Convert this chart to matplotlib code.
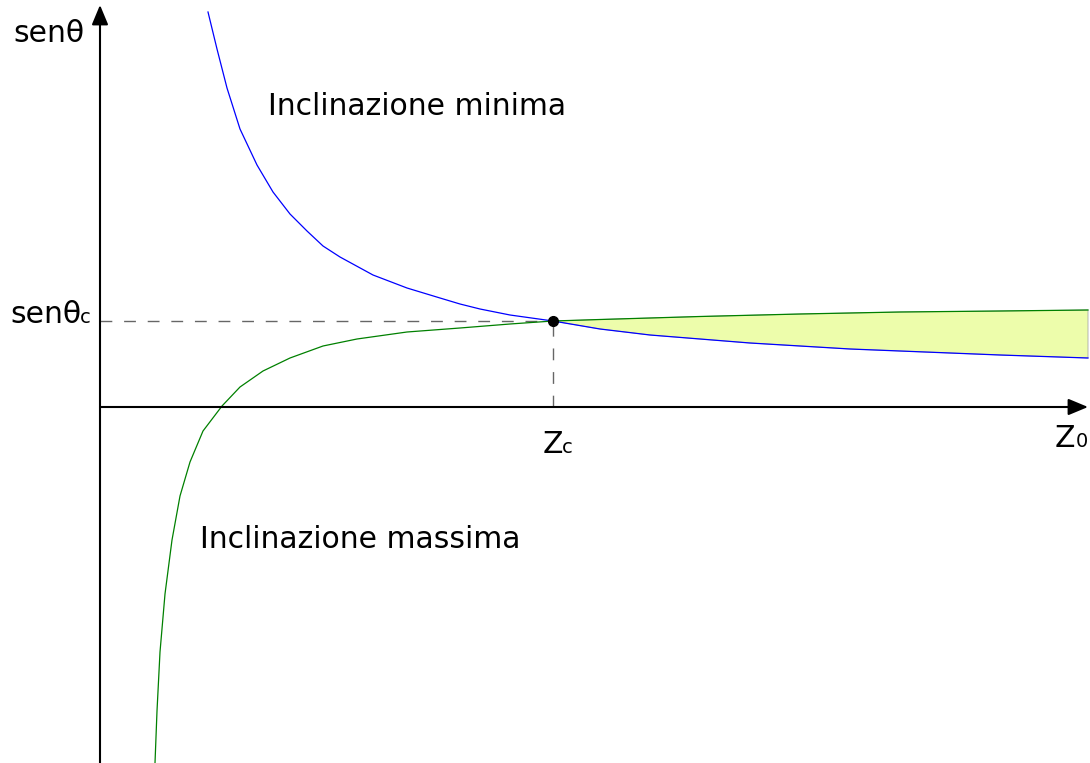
import matplotlib.pyplot as plt
import numpy as np

# curve samples (z0, sen theta), read along each branch
z_min = [1.08, 1.17, 1.27, 1.40, 1.57, 1.73, 1.90, 2.07, 2.23, 2.40, 2.73, 3.07, 3.40,
         3.60, 3.80, 4.10, 4.53, 5.00, 5.50, 6.00, 6.50, 7.00, 7.50, 8.00, 9.00, 9.88]
s_min = [3.95, 3.58, 3.19, 2.78, 2.42, 2.15, 1.93, 1.76, 1.61, 1.50, 1.32, 1.19, 1.09,
         1.03, 0.98, 0.92, 0.86, 0.78, 0.72, 0.68, 0.64, 0.61, 0.58, 0.56, 0.52, 0.49]

z_max = [0.55, 0.57, 0.60, 0.65, 0.72, 0.80, 0.90, 1.03, 1.22, 1.40, 1.63, 1.90, 2.23,
         2.57, 3.07, 3.60, 4.10, 4.53, 5.00, 5.50, 6.00, 7.00, 8.00, 9.00, 9.88]
s_max = [-3.56, -3.04, -2.45, -1.87, -1.33, -0.89, -0.55, -0.24, 0.01, 0.20, 0.36, 0.49, 0.61,
         0.68, 0.75, 0.79, 0.83, 0.86, 0.875, 0.89, 0.905, 0.93, 0.95, 0.96, 0.97]

z_c = 4.53
s_c = 0.86

fig = plt.figure(figsize=(10.9, 7.63), dpi=100)
ax = fig.add_axes([0, 0, 1, 1])
ax.set_xlim(-1.0, 9.9)
ax.set_ylim(-3.56, 4.07)
ax.axis('off')

# allowed region between the two branches, right of z_c
zm = np.array(z_max)
sm = np.array(s_max)
zb = np.array(z_min)
sb = np.array(s_min)
top = zm >= z_c
bot = zb >= z_c
poly_z = np.concatenate([zm[top], zb[bot][::-1]])
poly_s = np.concatenate([sm[top], sb[bot][::-1]])
ax.fill(poly_z, poly_s, facecolor='#edfdab', edgecolor='#aaaaaa', lw=0.6, zorder=1)

ax.plot(z_min, s_min, color='#0000ff', lw=0.9, zorder=3)
ax.plot(z_max, s_max, color='#008000', lw=0.9, zorder=3)

# axes with arrow heads
arrow = dict(arrowstyle='-|>,head_length=0.6,head_width=0.25', color='black',
             lw=1.5, mutation_scale=20, shrinkA=0, shrinkB=0)
ax.annotate('', xy=(9.88, 0), xytext=(0, 0), arrowprops=arrow, zorder=4)
ax.annotate('', xy=(0, 4.02), xytext=(0, -3.56), arrowprops=arrow, zorder=4)

# dashed guides to the crossing point
ax.plot([0, z_c], [s_c, s_c], color='#666666', lw=1.0, dashes=(8.5, 8.5), zorder=2)
ax.plot([z_c, z_c], [0, s_c], color='#666666', lw=1.0, dashes=(8.5, 8.5), zorder=2)
ax.plot(z_c, s_c, 'o', color='black', markersize=7, zorder=5)

fs = 21.5
fs_sub = 14
ax.text(-0.87, 3.65, 'senθ', fontsize=fs, ha='left', va='baseline')
ax.text(-0.90, s_c - 0.02, 'senθ', fontsize=fs, ha='left', va='baseline')
ax.text(-0.20, s_c - 0.02, 'c', fontsize=fs_sub, ha='left', va='baseline')
ax.text(1.68, 2.92, 'Inclinazione minima', fontsize=fs, ha='left', va='baseline')
ax.text(1.00, -1.41, 'Inclinazione massima', fontsize=fs, ha='left', va='baseline')
ax.text(4.43, -0.46, 'Z', fontsize=fs, ha='left', va='baseline')
ax.text(4.62, -0.46, 'c', fontsize=fs_sub, ha='left', va='baseline')
ax.text(9.55, -0.40, 'Z', fontsize=fs, ha='left', va='baseline')
ax.text(9.76, -0.40, '0', fontsize=fs_sub, ha='left', va='baseline')

fig.savefig('out.png', dpi=100)
